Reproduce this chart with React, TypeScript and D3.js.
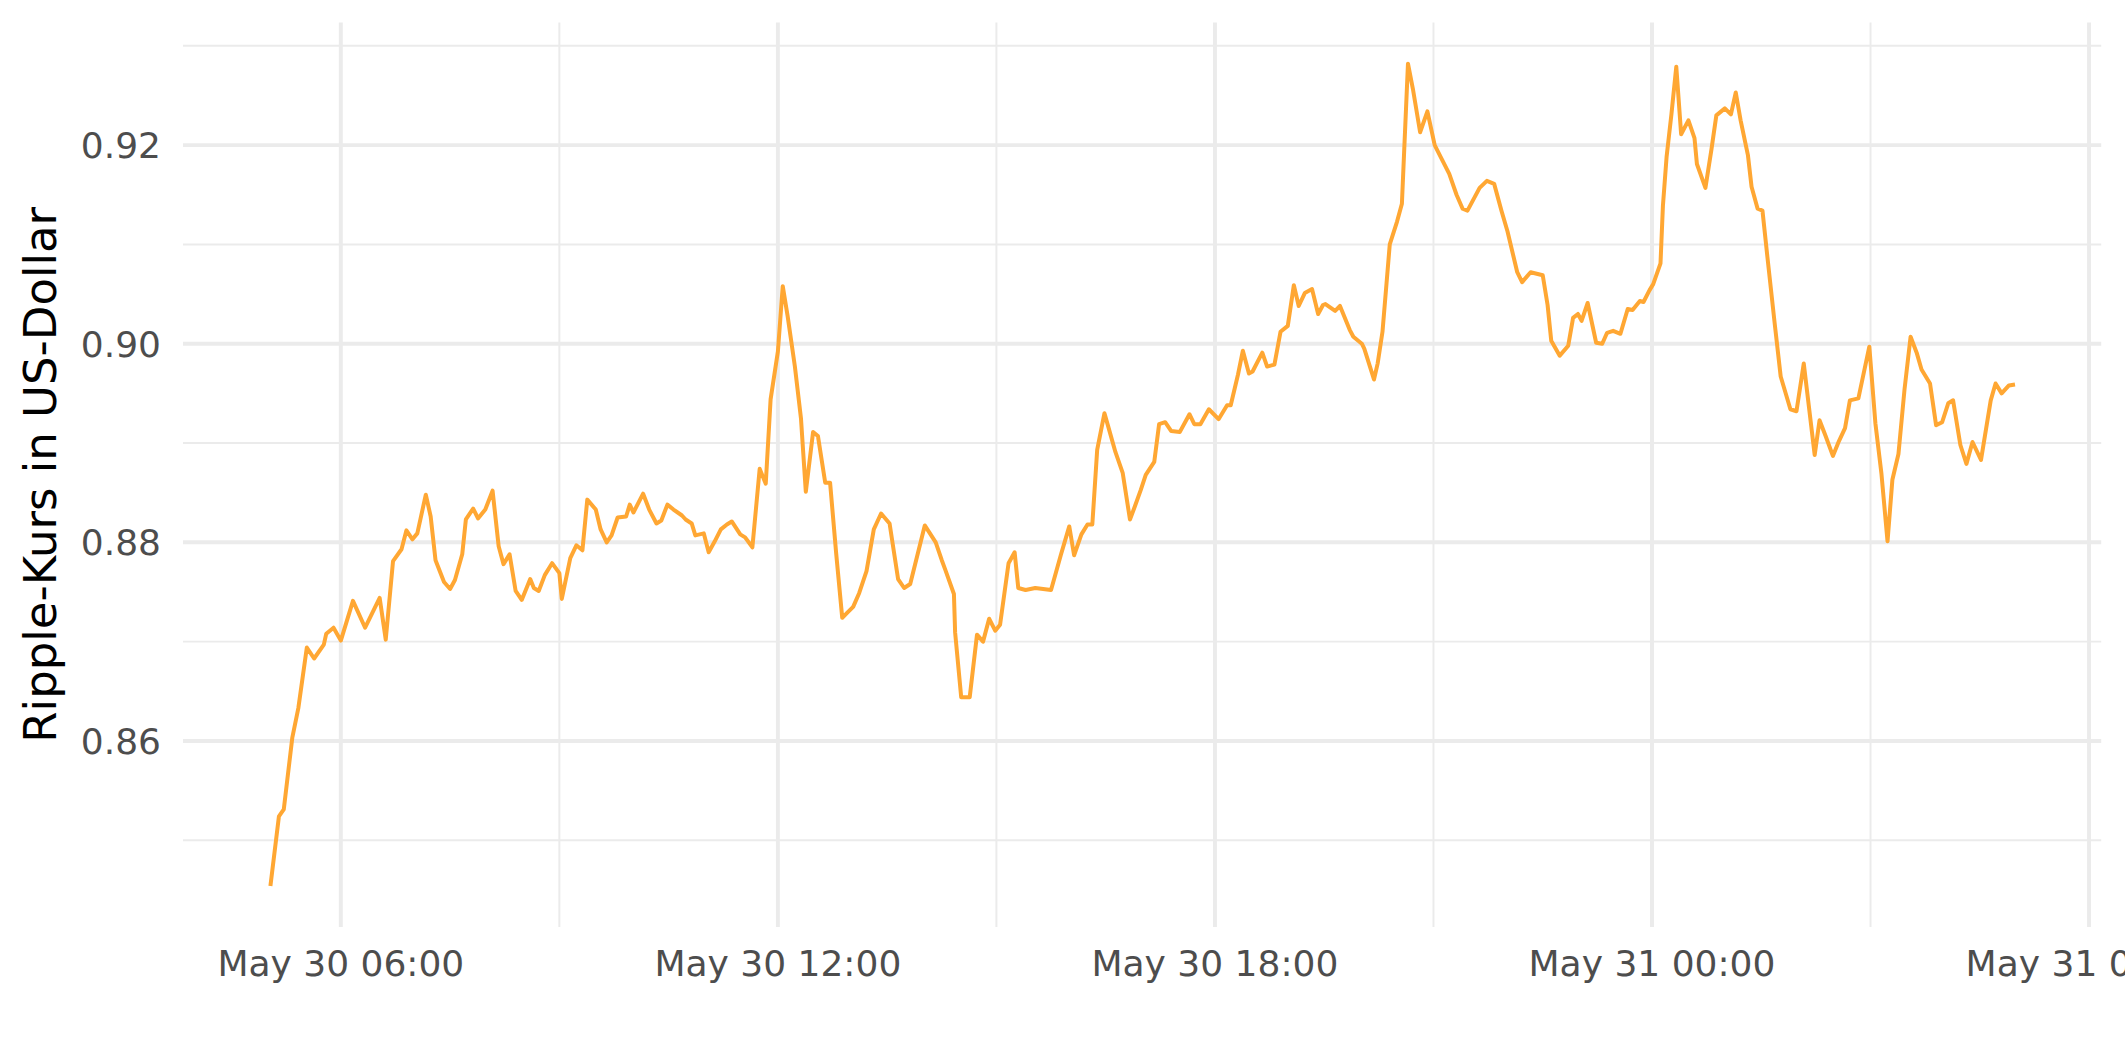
import React from "react";
import * as d3 from "d3";

// minutes since 2021-05-30 00:00
const minutesSinceStart = [302,309,313,320,325,332,338,346,348,354,360,370,380,392,397,403,410,414,419,423,430,434,438,445,450,454,460,463,469,473,
479,485,490,494,499,504,509,516,519,523,528,534,540,542,549,554,559,563,570,574,579,583,588,595,598,601,609,614,620,624,629,634,641,644,649,652,659,
663,668,673,678,682,689,693,699,705,710,714,720,724,728,734,739,743,749,753,759,763,768,773,777,782,787,793,799,805,812,819,824,829,
841,850,855,858,865,866,871,878,884,889,894,899,903,910,915,918,924,932,945,953,960,964,970,975,979,983,989,992,998,1004,1010,1014,1019,
1023,1030,1034,1039,1044,1051,1059,1063,1068,1075,1083,1090,1093,1099,1103,1108,1111,1119,1123,1129,1134,1140,1145,1149,1154,1160,1165,1169,1171,1179,1183,1191,1194,1201,
1203,1211,1214,1218,1224,1230,1234,1236,1239,1243,1249,1255,1261,1266,1273,1279,1284,1288,1298,1304,1310,1316,1321,1329,1333,1340,1350,1354,1357,1364,1371,1375,1379,1382,1387,
1394,1399,1403,1408,1414,1420,1424,1430,1433,1438,1441,1447,1449,1452,1456,1460,1464,1470,1475,1477,1484,1489,1493,1500,1505,1509,1513,1519,1522,1527,1531,1535,1541,1546,1554,1559,1565,
1574,1578,1583,1589,1594,1599,1603,1610,1619,1624,1629,1634,1638,1643,1648,1653,1658,1662,1669,1674,1679,1684,1688,1694,1699,1704,1711,1719,1723,1728,1734,1739];

const rippleUsd = [0.8454,0.8524,0.8531,0.8603,0.8633,0.8694,0.8683,0.8697,0.8708,0.8714,0.8701,0.8741,0.8714,0.8744,0.8702,0.8781,0.8793,0.8812,0.8803,0.8809,0.8848,0.8826,0.8782,0.8760,0.8753,0.8762,0.8788,0.8823,0.8834,0.8824,
0.8833,0.8852,0.8796,0.8778,0.8788,0.8751,0.8742,0.8763,0.8754,0.8751,0.8767,0.8779,0.8769,0.8743,0.8784,0.8797,0.8792,0.8843,0.8833,0.8813,0.8800,0.8807,0.8825,0.8826,0.8838,0.8830,0.8849,0.8833,0.8819,0.8822,0.8838,0.8833,0.8827,0.8823,0.8819,0.8807,0.8809,
0.8790,0.8801,0.8813,0.8818,0.8821,0.8808,0.8805,0.8795,0.8874,0.8859,0.8944,0.8992,0.9058,0.9028,0.8977,0.8925,0.8851,0.8911,0.8907,0.8860,0.8860,0.8789,0.8724,0.8729,0.8735,0.8749,0.8771,0.8813,0.8829,0.8819,0.8763,0.8754,0.8758,
0.8817,0.8800,0.8782,0.8772,0.8748,0.8709,0.8644,0.8644,0.8707,0.8700,0.8723,0.8711,0.8717,0.8779,0.8790,0.8754,0.8752,0.8754,0.8752,0.8787,0.8816,0.8787,0.8808,0.8818,0.8818,0.8893,0.8930,0.8917,0.8891,0.8870,0.8823,0.8836,0.8853,
0.8868,0.8881,0.8919,0.8921,0.8912,0.8911,0.8929,0.8919,0.8919,0.8934,0.8924,0.8938,0.8938,0.8969,0.8993,0.8970,0.8972,0.8991,0.8977,0.8979,0.9012,0.9018,0.9059,0.9038,0.9051,0.9055,0.9030,0.9039,0.9040,0.9033,0.9038,0.9014,0.9007,0.9000,
0.8995,0.8964,0.8980,0.9012,0.9100,0.9123,0.9141,0.9198,0.9282,0.9257,0.9213,0.9234,0.9200,0.9188,0.9171,0.9150,0.9136,0.9134,0.9157,0.9164,0.9161,0.9134,0.9113,0.9072,0.9062,0.9072,0.9069,0.9039,0.9003,0.8988,0.8998,0.9026,0.9030,0.9023,0.9041,
0.9001,0.9000,0.9011,0.9013,0.9010,0.9035,0.9034,0.9043,0.9042,0.9054,0.9060,0.9081,0.9139,0.9188,0.9231,0.9279,0.9211,0.9225,0.9207,0.9181,0.9157,0.9196,0.9230,0.9237,0.9231,0.9253,0.9225,0.9190,0.9158,0.9136,0.9134,0.9088,0.9021,0.8967,0.8934,0.8932,0.8980,
0.8888,0.8923,0.8907,0.8887,0.8902,0.8915,0.8943,0.8945,0.8997,0.8920,0.8869,0.8801,0.8863,0.8889,0.8954,0.9007,0.8991,0.8974,0.8960,0.8918,0.8921,0.8940,0.8943,0.8898,0.8879,0.8901,0.8883,0.8943,0.8960,0.8950,0.8958,0.8959];

const yMajorTicks = [0.86, 0.88, 0.9, 0.92];
const yMinorTicks = [0.85, 0.87, 0.89, 0.91, 0.93];
const yTitle = "Ripple-Kurs in US-Dollar";

const W = 2125;
const H = 1062;
const PANEL = { left: 183, right: 2101.2, top: 22.6, bottom: 927 };
const GRID = "#EBEBEB";
const TEXT = "#4D4D4D";
const LINE = "#FFA733";
const FONT = "'DejaVu Sans', sans-serif";

const toDate = (m: number) => new Date(2021, 4, 30, 0, m);

export default function App() {
  const data = minutesSinceStart.map((m, i) => ({ t: toDate(m), v: rippleUsd[i] }));

  const [m0, m1] = d3.extent(minutesSinceStart) as [number, number];
  const mPad = (m1 - m0) * 0.05;
  const x = d3.scaleTime()
    .domain([toDate(m0 - mPad), toDate(m1 + mPad)])
    .range([PANEL.left, PANEL.right]);

  const [v0, v1] = d3.extent(rippleUsd) as [number, number];
  const vPad = (v1 - v0) * 0.05;
  const y = d3.scaleLinear().domain([v0 - vPad, v1 + vPad]).range([PANEL.bottom, PANEL.top]);

  const [d0, d1] = x.domain();
  const majorX = d3.timeHour.every(6)!.range(d0, d1);
  const minorX = d3.timeHour.every(3)!.range(d0, d1).filter((d) => d.getHours() % 6 !== 0);
  const fmt = d3.timeFormat("%b %d %H:%M");

  const line = d3.line<{ t: Date; v: number }>().x((d) => x(d.t)).y((d) => y(d.v));

  return (
    <svg width={W} height={H} style={{ position: "absolute", left: 0, top: 0, display: "block", background: "#fff" }} fontFamily={FONT}>
      <rect x={0} y={0} width={W} height={H} fill="#fff" />
      {yMinorTicks.map((v) => (
        <line key={"ym" + v} x1={PANEL.left} x2={PANEL.right} y1={y(v)} y2={y(v)} stroke={GRID} strokeWidth={1.97} />
      ))}
      {minorX.map((d) => (
        <line key={"xm" + +d} x1={x(d)} x2={x(d)} y1={PANEL.top} y2={PANEL.bottom} stroke={GRID} strokeWidth={1.97} />
      ))}
      {yMajorTicks.map((v) => (
        <line key={"yM" + v} x1={PANEL.left} x2={PANEL.right} y1={y(v)} y2={y(v)} stroke={GRID} strokeWidth={3.94} />
      ))}
      {majorX.map((d) => (
        <line key={"xM" + +d} x1={x(d)} x2={x(d)} y1={PANEL.top} y2={PANEL.bottom} stroke={GRID} strokeWidth={3.94} />
      ))}
      <path d={line(data) || ""} fill="none" stroke={LINE} strokeWidth={4} strokeLinejoin="round" />
      {yMajorTicks.map((v) => (
        <text key={"yl" + v} x={161} y={y(v)} dy="0.36em" textAnchor="end" fontSize={36} fill={TEXT}>
          {v.toFixed(2)}
        </text>
      ))}
      {majorX.map((d) => (
        <text key={"xl" + +d} x={x(d)} y={976} textAnchor="middle" fontSize={36} fill={TEXT}>
          {fmt(d)}
        </text>
      ))}
      <text transform={`translate(56, ${(PANEL.top + PANEL.bottom) / 2}) rotate(-90)`} textAnchor="middle" fontSize={45} fill="#000">
        {yTitle}
      </text>
    </svg>
  );
}
